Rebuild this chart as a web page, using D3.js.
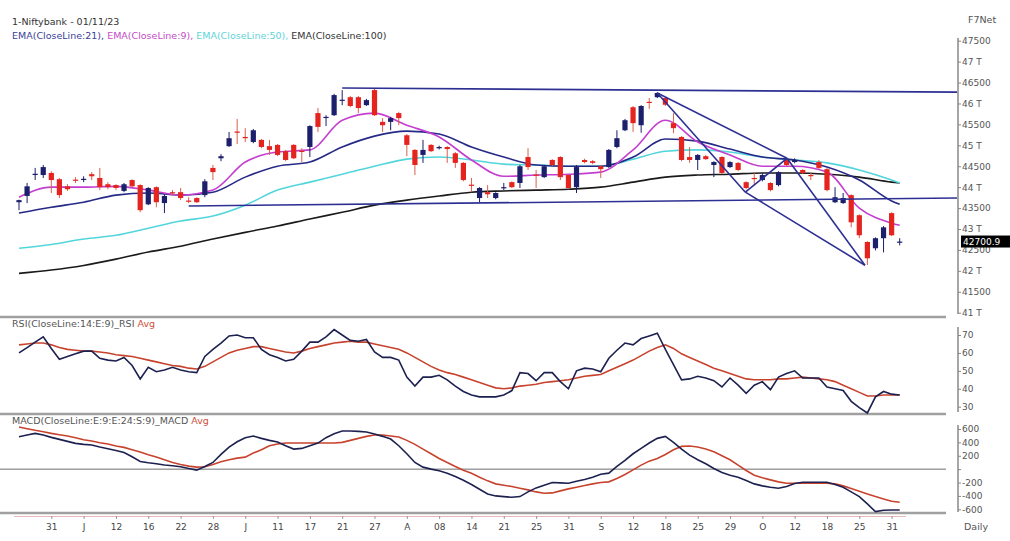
<!DOCTYPE html>
<html>
<head>
<meta charset="utf-8">
<script src="https://cdn.jsdelivr.net/npm/d3@7"></script>
<style>
	body { margin: 0; background: #fff; }
	svg { display: block; font-family: "DejaVu Sans", Verdana, sans-serif; }
</style>
</head>
<body>
<svg id="chart" width="1010" height="541"></svg>
<script>
/* daily candles, 25 May .. 1 Nov 2023 */
const opens = [43640,43790,44290,44290,44340,44190,44020,44180,44190,44310,44220,44070,44050,43910,44170,44050,43590,44000,43620,43880,
	43880,43680,43740,43810,44460,44690,44980,45330,45200,45080,45130,44980,45010,44860,45010,44870,44960,45770,45660,45720,
	46070,46150,46150,45960,46320,45560,45560,45770,45240,44890,44770,45010,44930,44960,44810,44580,44060,43740,43880,43740,
	43980,44120,44100,44720,44300,44240,44650,44720,44290,44000,44650,44620,44500,44480,44960,45360,45910,45480,46040,46150,
	46130,45530,45200,44720,44650,44740,44530,44720,44480,44580,44120,44220,44170,44100,44050,44650,44600,44410,44290,44600,
	44430,43640,43620,43810,43330,42690,42540,42780,43380,42690];
const highs = [43700,44100,44460,44530,44380,44220,44070,44240,44260,44360,44460,44120,44070,44100,44190,44070,44000,44020,43830,43930,
	43980,43760,43760,44190,44530,44790,45320,45630,45410,45390,45150,45130,45030,44890,45030,44930,45480,45890,45720,46230,
	46320,46180,46180,46110,46370,45650,45680,45800,45270,44910,45130,45030,44990,44980,44840,44600,44220,44000,44050,43880,
	44100,44140,44530,44930,44410,44530,44670,44740,44310,44530,44680,44650,44530,44910,45360,45630,45940,45960,46130,46270,
	46150,45770,45220,44960,44790,44770,44620,44740,44620,44600,44140,44360,44330,44120,44380,44700,44690,44430,44340,44650,
	44460,44000,43860,43830,43350,42710,42800,43070,43400,42780];
const lows = [43450,43620,44170,44220,43860,43740,43910,44100,44120,44170,43930,43950,43930,43880,44000,43400,43570,43520,43380,43810,
	43690,43620,43620,43760,44170,44620,44960,45030,45080,45050,44930,44770,44740,44620,44670,44600,44720,45320,45460,45700,
	45960,45910,45770,45940,45700,45320,45360,45480,44740,44290,44580,44840,44900,44580,44460,44140,43880,43640,43740,43710,
	43930,43980,43980,44410,43980,44220,44500,44170,43950,43860,44570,44550,44220,44460,44930,45340,45320,45300,45870,46130,
	45940,45290,44620,44580,44410,44650,44240,44310,44460,44380,43950,44050,44140,43900,44020,44500,44570,44310,44170,44430,
	43900,43620,43600,43040,42780,42140,42490,42440,42830,42610];
const closes = [43690,44020,44320,44480,44170,43810,43950,44160,44200,44260,44000,44000,43980,44070,44020,43450,43980,43640,43790,43860,
	43740,43670,43640,44140,44360,44740,45170,45300,45170,45360,44960,44890,44770,44650,44690,44850,45460,45440,45680,46200,
	46090,45940,45890,46080,45720,45480,45650,45650,45010,44530,44890,44860,44960,44910,44580,44170,44040,43980,43830,43860,
	44000,44000,44500,44480,44270,44500,44530,44240,43980,44480,44600,44580,44430,44890,45170,45600,45530,45940,46020,46250,
	45970,45410,44650,44650,44770,44670,44600,44340,44600,44410,43980,44200,44290,43930,44360,44530,44650,44340,44270,44460,
	43930,43760,43740,43160,42850,42300,42780,43040,42850,42700];

// moving averages, read every 4th candle
const emaIdx = [0,4,8,12,16,20,24,28,32,36,40,44,48,52,56,60,64,68,72,76,80,84,88,92,96,100,104,108,109];
const ema9 = [43760,44000,44000,44020,43930,43810,43930,44600,44840,44890,45600,45770,45480,45200,44650,44260,44290,44310,44360,44890,
	45600,45080,44770,44500,44500,44360,43500,43140,43090];
const ema21 = [43380,43520,43640,43810,43860,43810,43880,44240,44500,44600,44960,45220,45340,45270,44960,44720,44530,44500,44500,44720,
	45150,45100,44910,44720,44650,44480,44170,43670,43590];
const ema50 = [42540,42630,42760,42850,43020,43190,43310,43570,43930,44120,44310,44500,44670,44720,44650,44550,44530,44500,44500,44670,
	44860,44890,44840,44720,44650,44580,44410,44170,44100];
const ema100 = [41940,42020,42130,42280,42450,42590,42760,42920,43070,43240,43400,43570,43690,43790,43880,43910,43930,43950,44000,44120,
	44240,44290,44310,44340,44340,44310,44240,44120,44100];

// RSI(14) and its average
const rsi = [60,63,66,69,62.5,56.5,58,59.5,61,61,57,56,55.5,57.5,53,45.5,52,49.5,50.5,52,
	50.5,49.5,49,58,62,65.5,69.5,70,68.5,68.5,62,59,57.5,55.5,56.5,61,66,66,69,73,
	70,67,66.5,67.5,60.5,57.5,57.5,56,46.5,41.5,46.5,46.5,47.5,45,41.5,38.5,36.5,35.5,35.5,35.5,
	36.5,39,49,48.5,44.5,49,49,44,40,50,51.5,51,49.5,57,61.5,65.5,64.5,68,69.5,71,
	62,53.5,45,45.5,47,46,44.5,41,46,42,37.5,42,44,39.5,46.5,48.5,50,46,46,46,
	41,40,39,33,29.5,26.5,35.5,38.5,37,36.5];
const rsiAvg = [64.5,65,65.5,65.5,64.5,63,62,61.5,61,61,60.5,60,59,58.5,58,57,56,55,54,53,
	52.5,51.5,51,52.5,55,57.5,60,61.5,62.5,63.5,63.5,62.5,61.5,60.5,60,61,62.5,63.5,64.5,65.5,
	66,66.5,66,66,65,64,63,62,60,57.5,55,52.5,50.5,49,48,46.5,45,43.5,42,40.5,
	40,40.5,41.5,42,42.5,43.5,44,44.5,45,46,47,47.5,48,50,52,54,56,58.5,61,63,
	64.5,62.5,59.5,57.5,55.5,53.5,51.5,50,48.5,47,45.5,45,45,45,45.5,45.5,46,46.5,46,45.5,
	45,44,42,40,38,36,36,36.5,36.5,36.5];

// MACD(9,24,9) and signal
const macd = [485,510,535,510,475,445,415,385,370,360,330,305,280,250,185,115,95,80,62,50,
	35,10,-15,40,100,220,330,410,470,495,460,430,405,350,300,310,350,390,470,530,
	570,570,565,555,525,490,450,350,230,100,30,0,-25,-60,-110,-165,-230,-300,-370,-400,
	-410,-420,-410,-340,-280,-240,-200,-205,-210,-180,-155,-120,-75,-60,40,130,230,310,390,460,
	490,400,300,210,140,80,10,-50,-90,-120,-170,-220,-250,-270,-285,-260,-215,-195,-195,-195,
	-195,-230,-270,-340,-410,-520,-635,-615,-610,-610];
const macdAvg = [630,605,580,560,535,515,495,470,440,420,395,375,345,325,290,255,215,180,140,100,
	70,45,30,35,70,110,140,165,180,240,290,350,375,390,390,390,390,390,390,390,
	400,430,460,490,510,510,495,480,430,370,300,230,160,100,40,-15,-60,-120,-175,-220,
	-240,-260,-285,-310,-340,-360,-355,-325,-295,-270,-245,-220,-200,-190,-140,-80,-10,60,120,160,
	220,290,340,345,330,300,260,200,140,60,-20,-90,-130,-160,-190,-210,-210,-210,-210,-210,
	-210,-220,-250,-290,-330,-370,-410,-445,-480,-495];

// drawn trend lines: [index1, price1, index2, price2]
const trendLines = [
	[40, 46370, 116.1, 46270],
	[21, 43550, 116.1, 43740],
	[79, 46250, 89.9, 43880],
	[79, 46250, 95.05, 44690],
	[89.9, 43880, 95.05, 44690],
	[89.9, 43880, 104.7, 42135],
	[95.05, 44690, 104.7, 42135]
];

// axis labels
const dateTicks = [4,8,12,16,20,24,28,32,36,40,44,48,52,56,60,64,68,72,76,80,84,88,92,96,100,104,108];
const dateLabels = ["31","J","12","16","22","28","J","11","17","21","27","A","08","14","21","25","31","S","12","18","25","29","O","12","18","25","31"];
const priceTicks = [47500,47000,46500,46000,45500,45000,44500,44000,43500,43000,42500,42000,41500,41000];
const priceLabels = ["47500","47 T","46500","46 T","45500","45 T","44500","44 T","43500","43 T","42500","42 T","41500","41 T"];
const rsiTicks = [70,60,50,40,30];
const macdTicks = [600,400,200,0,-200,-400,-600];
const macdLabels = ["600","400","200","","-200","-400","-600"];
const lastPrice = 42700.9;

const svg = d3.select("#chart");

// scales
const x = d3.scaleLinear().domain([0, 109]).range([19, 899.7]);
const yP = d3.scaleLinear().domain([41000, 47500]).range([312.7, 40.7]);
const yR = d3.scaleLinear().domain([30, 70]).range([406.7, 335]);
const yM = d3.scaleLinear().domain([-600, 600]).range([509.3, 429]);

const UP = "#1c1f6b", DOWN = "#e5231f";

// panel separators
[317, 414, 513].forEach(y => {
	svg.append("line").attr("x1", 0).attr("x2", 946).attr("y1", y).attr("y2", y)
		.attr("stroke", "#a0a0a0").attr("stroke-width", 2.5);
});
svg.append("line").attr("x1", 0).attr("x2", 946).attr("y1", yM(0)).attr("y2", yM(0))
	.attr("stroke", "#6e6e6e").attr("stroke-width", 1);

// moving averages
const emaLine = d3.line().x((d, k) => x(emaIdx[k])).y(d => yP(d)).curve(d3.curveMonotoneX);
[[ema100, "#1a1a1a"], [ema50, "#52d6db"], [ema21, "#262a86"], [ema9, "#c43ecf"]].forEach(([s, c]) => {
	svg.append("path").attr("d", emaLine(s)).attr("fill", "none").attr("stroke", c).attr("stroke-width", 1.6);
});

// candles
const candles = svg.append("g").selectAll("g").data(closes).enter().append("g");
candles.append("line")
	.attr("x1", (d, i) => x(i)).attr("x2", (d, i) => x(i))
	.attr("y1", (d, i) => yP(highs[i])).attr("y2", (d, i) => yP(lows[i]))
	.attr("stroke", (d, i) => d >= opens[i] ? UP : "#d8604f").attr("stroke-width", 1);
candles.append("rect")
	.attr("x", (d, i) => x(i) - 2.6).attr("width", 5.2)
	.attr("y", (d, i) => yP(Math.max(d, opens[i])))
	.attr("height", (d, i) => Math.max(1.2, Math.abs(yP(d) - yP(opens[i]))))
	.attr("fill", (d, i) => d >= opens[i] ? UP : DOWN);

// trend lines
svg.append("g").selectAll("line").data(trendLines).enter().append("line")
	.attr("x1", d => x(d[0])).attr("y1", d => yP(d[1]))
	.attr("x2", d => x(d[2])).attr("y2", d => yP(d[3]))
	.attr("stroke", "#2d3092").attr("stroke-width", 1.6);

// RSI panel
const rsiLine = d3.line().x((d, i) => x(i)).y(d => yR(d));
svg.append("path").attr("d", rsiLine(rsiAvg)).attr("fill", "none").attr("stroke", "#c8432e").attr("stroke-width", 1.6);
svg.append("path").attr("d", rsiLine(rsi)).attr("fill", "none").attr("stroke", "#1d2150").attr("stroke-width", 1.6);

// MACD panel
const macdLine = d3.line().x((d, i) => x(i)).y(d => yM(d));
svg.append("path").attr("d", macdLine(macdAvg)).attr("fill", "none").attr("stroke", "#c8432e").attr("stroke-width", 1.6);
svg.append("path").attr("d", macdLine(macd)).attr("fill", "none").attr("stroke", "#1d2150").attr("stroke-width", 1.6);

// right axes
function rightAxis(scale, ticks, labels, y1, y2) {
	const g = svg.append("g").attr("transform", "translate(958,0)")
		.call(d3.axisRight(scale).tickValues(ticks).tickFormat((d, i) => labels[i]).tickSize(3).tickSizeOuter(0));
	g.select(".domain").remove();
	g.append("line").attr("y1", y1).attr("y2", y2).attr("stroke", "#888").attr("stroke-width", 1.5);
	g.selectAll(".tick line").attr("stroke", "#888");
	g.selectAll(".tick text").attr("x", 4).attr("fill", "#555").style("font-size", "9px").style("font-family", "DejaVu Sans");
}
rightAxis(yP, priceTicks, priceLabels, 38, 314);
rightAxis(yR, rsiTicks, rsiTicks.map(String), 327, 412);
rightAxis(yM, macdTicks, macdLabels, 425, 512);

// last price marker
svg.append("rect").attr("x", 961).attr("y", yP(lastPrice) - 6).attr("width", 49).attr("height", 12).attr("fill", "#000");
svg.append("text").attr("x", 963).attr("y", yP(lastPrice) + 3.5).attr("fill", "#fff")
	.style("font-size", "9px").text(lastPrice);

// date axis
const xa = svg.append("g").attr("transform", "translate(0,516)")
	.call(d3.axisBottom(x).tickValues(dateTicks).tickFormat((d, i) => dateLabels[i]).tickSize(3).tickSizeOuter(0));
xa.select(".domain").attr("stroke", "#e6b8b8").attr("d", "M14,0.5H906");
xa.selectAll(".tick line").attr("stroke", "#999");
xa.selectAll(".tick text").attr("y", 8).attr("fill", "#444").style("font-size", "9px").style("font-family", "DejaVu Sans");

// titles
const txt = (xp, yp, parts) => {
	const t = svg.append("text").attr("x", xp).attr("y", yp).style("font-size", "9.5px");
	parts.forEach(([s, c]) => t.append("tspan").attr("fill", c).text(s));
};
txt(12, 25, [["1-Niftybank - 01/11/23", "#333"]]);
txt(12, 39, [["EMA(CloseLine:21), ", "#3b3f98"], ["EMA(CloseLine:9), ", "#c34cc8"], ["EMA(CloseLine:50), ", "#5fd3d8"], ["EMA(CloseLine:100)", "#333"]]);
txt(12, 327, [["RSI(CloseLine:14:E:9)_RSI ", "#555"], ["Avg", "#d0503c"]]);
txt(12, 424, [["MACD(CloseLine:E:9:E:24:S:9)_MACD ", "#555"], ["Avg", "#d0503c"]]);
txt(968, 23, [["F7Net", "#555"]]);
txt(964, 530, [["Daily", "#555"]]);
</script>
</body>
</html>
